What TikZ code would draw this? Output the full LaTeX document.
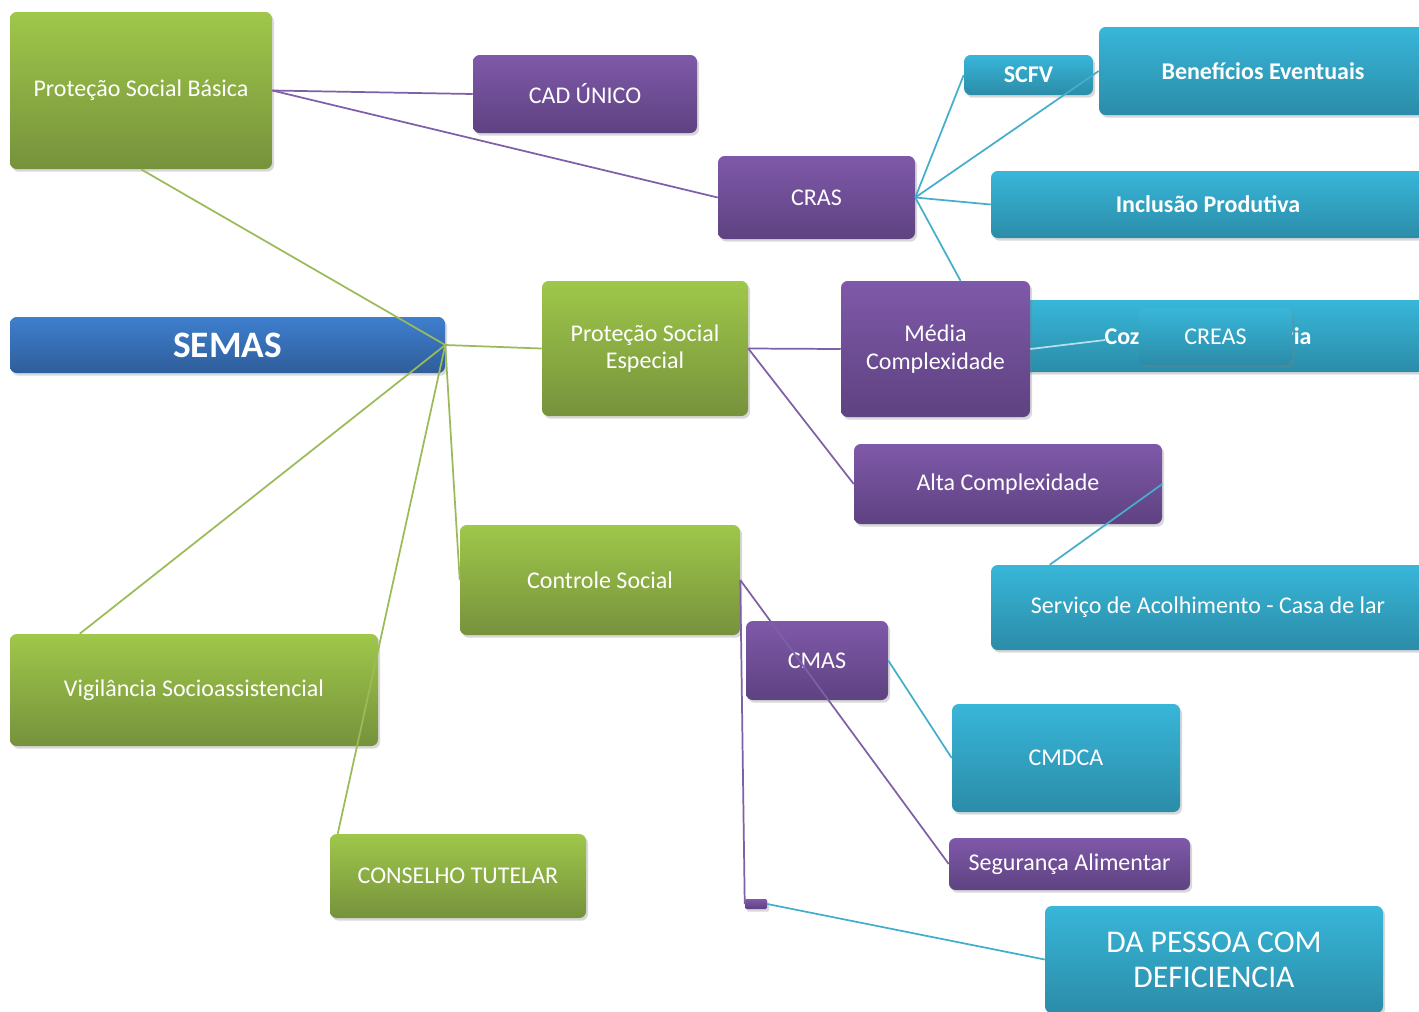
\documentclass[tikz,border=0pt]{standalone}
\usepackage{fontspec}
\setmainfont{Carlito}
\usetikzlibrary{shadows,calc}
\definecolor{gT}{HTML}{9FC74A}
\definecolor{gB}{HTML}{76923C}
\definecolor{pT}{HTML}{7F59A9}
\definecolor{pB}{HTML}{5E4281}
\definecolor{tT}{HTML}{38B6D9}
\definecolor{tB}{HTML}{2B8CA8}
\definecolor{bT}{HTML}{3E7FCE}
\definecolor{bB}{HTML}{2F5D9A}
\definecolor{gL}{HTML}{9BBB59}
\definecolor{pL}{HTML}{7F5FA8}
\definecolor{tL}{HTML}{45AECB}
\newcommand\bx[7]{\node[#6, minimum width={(#4-#2)*0.75pt}, minimum height={(#5-#3)*0.75pt}] (#1) at ({(#2+#4)/2},{(#3+#5)/2}) {#7};}
\begin{document}
\begin{tikzpicture}[x=0.75pt,y=-0.75pt,
  box/.style={rounded corners=5pt, align=center, text=white, inner sep=0pt,
    drop shadow={opacity=0.3, shadow xshift=1.5pt, shadow yshift=-2pt},
    font=\fontsize{18}{20.5}\selectfont},
  gbox/.style={box, top color=gT, bottom color=gB},
  pbox/.style={box, top color=pT, bottom color=pB},
  tbox/.style={box, top color=tT, bottom color=tB},
  tboxb/.style={tbox, font=\fontsize{18}{20.5}\selectfont\bfseries},
  bbox/.style={box, top color=bT, bottom color=bB, font=\fontsize{28}{30}\selectfont\bfseries},
  gline/.style={draw=gL, line width=1.3pt},
  pline/.style={draw=pL, line width=1.3pt},
  tline/.style={draw=tL, line width=1.3pt},
]
\clip (0,0) rectangle (1419,1011);
\fill[white] (0,0) rectangle (1419,1011);
% nodes
\bx{psb}{10}{12}{272}{169}{gbox}{Proteção Social Básica}
\bx{cad}{473}{55}{697}{133}{pbox}{CAD ÚNICO}
\bx{cras}{718}{156}{915}{239}{pbox}{CRAS}
\bx{scfv}{964}{55}{1093}{95}{tboxb}{SCFV}
\bx{ben}{1099}{27}{1427}{115}{tboxb}{Benefícios Eventuais}
\bx{inc}{991}{171}{1425}{238}{tboxb}{Inclusão Produtiva}
\bx{coz}{991}{300}{1425}{372}{tboxb}{Cozinha Comunitária}
\bx{creas}{1139}{308}{1292}{365}{tbox}{CREAS}
\bx{med}{841}{281}{1030}{417}{pbox}{Média\\Complexidade}
\bx{pse}{542}{281}{748}{416}{gbox}{Proteção Social\\Especial}
\bx{semas}{10}{317}{445}{373}{bbox}{SEMAS}
\bx{alta}{854}{444}{1162}{524}{pbox}{Alta Complexidade}
\bx{serv}{991}{565}{1425}{650}{tbox}{Serviço de Acolhimento - Casa de lar}
\bx{ctrl}{460}{525}{740}{635}{gbox}{Controle Social}
\bx{cmas}{746}{621}{888}{700}{pbox}{CMAS}
\bx{cmdca}{952}{704}{1180}{812}{tbox}{CMDCA}
\bx{seg}{949}{838}{1190}{890}{pbox}{Segurança Alimentar}
\node[pbox, rounded corners=1pt, minimum width=16.5pt, minimum height=7.5pt] (small) at (756,904) {};
\node[tbox, minimum width={338*0.75pt}, minimum height={107*0.75pt}, font=\fontsize{23.7}{26.3}\selectfont] (pes) at (1214,959.5) {DA PESSOA COM\\DEFICIENCIA};
\bx{vig}{10}{634}{378}{746}{gbox}{Vigilância Socioassistencial}
\bx{cons}{330}{834}{586}{918}{gbox}{CONSELHO TUTELAR}
% connectors
\draw[pline] (psb.east) -- (cad.west);
\draw[pline] (psb.east) -- (cras.west);
\draw[gline] (psb.south) -- (semas.east);
\draw[gline] (semas.east) -- (pse.west);
\draw[gline] (semas.east) -- ($(vig.north west)+(70,0)$);
\draw[gline] (semas.east) -- ($(cons.north west)+(8,0)$);
\draw[gline] (semas.east) -- (ctrl.west);
\draw[tline] (cras.east) -- (scfv.west);
\draw[tline] (cras.east) -- (ben.west);
\draw[tline] (cras.east) -- (inc.west);
\draw[tline] (cras.east) -- ($(med.north)+(25,0)$);
\coordinate (cozpt) at (1105,340);
\draw[draw=tL!40!white, line width=1.3pt] (med.east) -- (cozpt);
\draw[pline] (pse.east) -- (med.west);
\draw[pline] (pse.east) -- (alta.west);
\draw[tline] (alta.east) -- ($(serv.north west)+(59,0)$);
\draw[pline] (ctrl.east) -- (seg.west);
\draw[pline] (ctrl.east) -- (small.west);
\draw[tline] (cmas.east) -- (cmdca.west);
\draw[tline] (small.east) -- (pes.west);
\end{tikzpicture}
\end{document}
